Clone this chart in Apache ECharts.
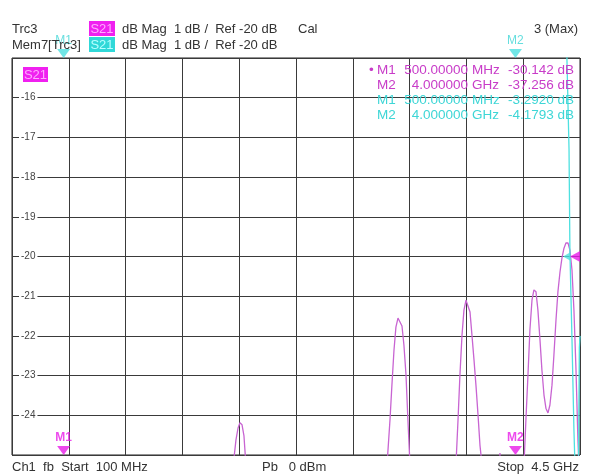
<!DOCTYPE html>
<html><head><meta charset="utf-8">
<script src="https://cdn.jsdelivr.net/npm/echarts@6/dist/echarts.min.js"></script>
<style>html,body{margin:0;padding:0;background:#fff}#c{width:592px;height:474px}</style>
</head><body><div id="c"></div>
<script>
// ---- data (frequency in MHz, level in dB) ----
const freqStart = 100, freqStop = 4500, xDivisions = 10;
const yMin = -25, yMax = -15, yStep = 1, refLevel = -20;

const trcFreq = [100, 500, 1000, 1500, 1780, 1812, 1835, 1851, 1866, 1882, 1897, 1913, 1950, 2500, 2980,
  3005, 3028, 3043, 3059, 3074, 3090, 3105, 3121, 3136, 3152, 3167, 3183, 3210, 3400, 3520,
  3539, 3555, 3570, 3586, 3601, 3617, 3632, 3648, 3663, 3679, 3694, 3710, 3725, 3741, 3760, 3870, 3880, 3890, 4000, 4050,
  4066, 4081, 4097, 4112, 4128, 4143, 4159, 4174, 4190, 4205, 4221, 4236, 4252, 4267, 4283, 4298, 4314, 4329, 4345, 4360,
  4376, 4391, 4407, 4422, 4438, 4453, 4469, 4484, 4492, 4500];
const trcDb = [-31.5, -30.142, -29, -28, -27, -25.3, -24.62, -24.32, -24.19, -24.24, -24.52, -25.3, -27.5, -29, -27,
  -25.25, -24.12, -23.24, -22.36, -21.78, -21.55, -21.55, -21.75, -22.23, -22.98, -24.12, -25.25, -27, -29, -27,
  -25.25, -24.12, -22.98, -21.98, -21.35, -21.10, -21.12, -21.40, -21.98, -22.61, -23.24, -23.99, -24.75, -25.25, -28, -26, -24.95, -26, -37.256, -27,
  -25.25, -24.12, -22.98, -21.85, -21.10, -20.84, -20.89, -21.35, -22.10, -22.86, -23.49, -23.82, -23.94, -23.74, -23.24, -22.48, -21.60, -20.89, -20.39, -20.04,
  -19.79, -19.66, -19.66, -19.84, -20.34, -21.35, -22.86, -24.62, -25.25, -26];

const memFreq = [100, 500, 1000, 1500, 2000, 2500, 3000, 3500, 4000, 4300, 4385, 4399, 4415, 4422, 4438, 4453, 4461, 4475, 4488, 4495, 4500];
const memDb = [-2.6, -3.292, -3.4, -3.6, -3.7, -3.8, -3.9, -4.0, -4.1793, -4.5, -6, -15.05, -17.3, -19.9, -22.1, -24.37, -25.25, -27, -25.3, -22.3, -22.0];

const markerNames = ['M1', 'M2'];
const markerFreq = [500, 4000];
const trcMarkerDb = [-30.142, -37.256];
const memMarkerDb = [-3.2920, -4.1793];

// ---- styles ----
const MAG = '#c864d2', MAGM = '#e81ce8', MAGT = '#c83cc8';
const CYN = '#4ee0e0', CYNT = '#3ed6d6';
const FONT = '"Liberation Sans", Arial, sans-serif';
const TXT = '#333';

const zip = (a, b) => a.map((v, i) => [v, b[i]]);
const clamp = v => Math.min(yMax, Math.max(yMin, v));
const fmtFreq = f => f < 1000 ? [f.toFixed(5), 'MHz'] : [(f / 1000).toFixed(6), 'GHz'];

function markerSeries(vals, color, labelColor, bold) {
  return {
    type: 'scatter', xAxisIndex: 0, yAxisIndex: 0, clip: false, z: 5,
    symbol: 'triangle', symbolRotate: 180, symbolSize: [13, 9], symbolOffset: [0, -4.5],
    itemStyle: { color: color },
    label: { show: true, position: 'top', distance: 2, formatter: p => markerNames[p.dataIndex],
      color: labelColor, fontSize: 12, fontFamily: FONT, fontWeight: bold ? 'bold' : 'normal' },
    data: markerFreq.map((f, i) => [f, clamp(vals[i])])
  };
}

function t(text, x, y, fill, opts) {
  return Object.assign({ type: 'text', z: 10, style: { text: text, x: x, y: y, fill: fill, font: '13px ' + FONT,
    align: (opts && opts.align) || 'left', verticalAlign: 'middle' } });
}

const elements = [
  t('Trc3', 12, 29, TXT), t('Mem7[Trc3]', 12, 45, TXT),
  { type: 'rect', shape: { x: 89, y: 21, width: 26, height: 15 }, style: { fill: '#f020f0' }, z: 9 },
  { type: 'rect', shape: { x: 89, y: 37, width: 26, height: 15 }, style: { fill: '#30d8d8' }, z: 9 },
  t('S21', 102, 29, '#ffa8ff', { align: 'center' }), t('S21', 102, 45, '#b8ffff', { align: 'center' }),
  t('dB Mag  1 dB /  Ref -20 dB', 122, 29, TXT), t('dB Mag  1 dB /  Ref -20 dB', 122, 45, TXT),
  t('Cal', 298, 29, TXT), t('3 (Max)', 578, 29, TXT, { align: 'right' }),
  { type: 'rect', shape: { x: 23, y: 67, width: 25, height: 15 }, style: { fill: '#f020f0' }, z: 9 },
  t('S21', 35.5, 75, '#ffa8ff', { align: 'center' }),
  t('Ch1  fb  Start  100 MHz', 12, 467, TXT), t('Pb   0 dBm', 262, 467, TXT),
  t('Stop  4.5 GHz', 579, 467, TXT, { align: 'right' })
];
// marker table
const rows = [];
markerFreq.forEach((f, i) => rows.push({ name: markerNames[i], f: f, v: trcMarkerDb[i].toFixed(3), c: MAGT, active: i === 0 }));
markerFreq.forEach((f, i) => rows.push({ name: markerNames[i], f: f, v: memMarkerDb[i].toFixed(4), c: CYNT, active: false }));
rows.forEach((r, i) => {
  const y = 70 + i * 15;
  const ff = fmtFreq(r.f);
  const font = '13.5px ' + FONT;
  const mk = (text, x, align) => ({ type: 'text', z: 10, style: { text: text, x: x, y: y, fill: r.c, font: font, align: align, verticalAlign: 'middle' } });
  if (r.active) elements.push(mk('\u2022', 369, 'left'));
  elements.push(mk(r.name, 377, 'left'), mk(ff[0], 468, 'right'), mk(ff[1], 472, 'left'), mk(r.v + ' dB', 574, 'right'));
});

const chart = echarts.init(document.getElementById('c'));
chart.setOption({
  animation: false,
  backgroundColor: '#fff',
  grid: { left: 12, right: 12, top: 58, bottom: 19, show: true, borderColor: '#222', borderWidth: 1, backgroundColor: 'transparent' },
  xAxis: [
    { type: 'value', min: freqStart, max: freqStop, show: false, splitLine: { show: false } },
    { type: 'value', min: 0, max: xDivisions, interval: 1, position: 'bottom',
      axisLine: { show: false }, axisTick: { show: false }, axisLabel: { show: false },
      splitLine: { show: true, lineStyle: { color: '#3a3a3a', width: 1 } } }
  ],
  yAxis: {
    type: 'value', min: yMin, max: yMax, interval: yStep,
    axisLine: { show: false }, axisTick: { show: false },
    axisLabel: { inside: true, margin: 7, showMinLabel: false, showMaxLabel: false, color: '#444', fontSize: 10,
      fontFamily: FONT, backgroundColor: '#fff', padding: [0, 2, 0, 2] },
    splitLine: { show: true, lineStyle: { color: '#3a3a3a', width: 1 } },
    z: 3
  },
  series: [
    { name: 'Trc3', type: 'line', xAxisIndex: 0, data: zip(trcFreq, trcDb), showSymbol: false, symbol: 'none',
      lineStyle: { color: MAG, width: 1.3 }, clip: true, z: 4 },
    { name: 'Mem7', type: 'line', xAxisIndex: 0, data: zip(memFreq, memDb), showSymbol: false, symbol: 'none',
      lineStyle: { color: CYN, width: 1.3 }, clip: true, z: 4 },
    markerSeries(trcMarkerDb, MAGM, MAGM, true),
    markerSeries(memMarkerDb, CYN, CYNT, false),
    { type: 'scatter', xAxisIndex: 0, clip: false, z: 6, symbol: 'triangle', symbolRotate: 90,
      data: [
        { value: [freqStop, refLevel], symbolSize: [8, 7], symbolOffset: [-13.5, 0], itemStyle: { color: CYN } },
        { value: [freqStop, refLevel], symbolSize: [11, 10], symbolOffset: [-5, 0], itemStyle: { color: MAGM } }
      ] }
  ],
  graphic: { elements: elements }
});
</script>
</body></html>
